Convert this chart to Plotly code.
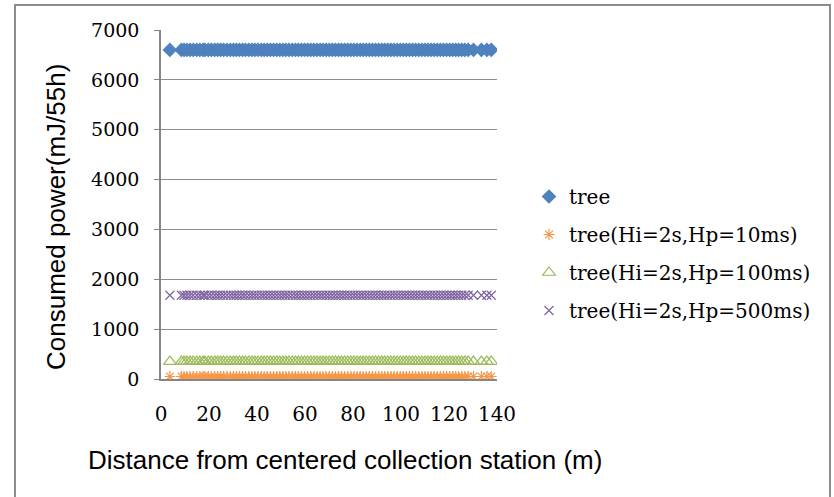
import plotly.graph_objects as go

distance = [3.7, 8.5, 9.6, 10.8, 12.1, 13.4, 14.9, 16.2, 17.5, 18.3, 19.7, 21.0, 22.4, 23.6,
            24.8, 26.1, 27.5, 28.9, 30.2, 31.4, 32.7, 34.0, 35.2, 36.6, 37.9, 39.1, 40.4,
            41.8, 43.0, 44.3, 45.6, 46.9, 48.2, 49.5, 50.8, 52.0, 53.3, 54.7, 56.0, 57.2,
            58.5, 59.8, 61.1, 62.4, 63.7, 65.0, 66.3, 67.5, 68.8, 70.1, 71.4, 72.7, 74.0,
            75.2, 76.5, 77.8, 79.1, 80.4, 81.7, 83.0, 84.2, 85.5, 86.8, 88.1, 89.4, 90.7,
            92.0, 93.2, 94.5, 95.8, 97.1, 98.4, 99.7, 101.0, 102.2, 103.5, 104.8, 106.1,
            107.4, 108.7, 110.0, 111.2, 112.5, 113.8, 115.1, 116.4, 117.7, 119.0, 120.3,
            121.5, 122.8, 124.0, 125.3, 126.6, 128.0, 130.2, 133.5, 135.8, 137.6]

series_names = ["tree", "tree(Hi=2s,Hp=10ms)", "tree(Hi=2s,Hp=100ms)", "tree(Hi=2s,Hp=500ms)"]
series_values = [6600, 50, 350, 1680]   # consumed power (mJ/55h), same for every node
colors = ["#4F81BD", "#F79646", "#9BBB59", "#8064A2"]
symbols = ["diamond", "asterisk-open", "triangle-up-open", "x-thin-open"]
sizes = [10, 9, 11, 9]

y_ticks = [0, 1000, 2000, 3000, 4000, 5000, 6000, 7000]
x_ticks = [0, 20, 40, 60, 80, 100, 120, 140]

x_title = "Distance from centered collection station (m)"
y_title = "Consumed power(mJ/55h)"

W, H = 834, 497
L, R, T, B = 161, 337, 30, 118

fig = go.Figure()
for i, (name, val, c, s, sz) in enumerate(zip(series_names, series_values, colors, symbols, sizes)):
    fig.add_trace(go.Scatter(
        x=distance, y=[val] * len(distance), mode="markers", name=name,
        legendgroup=f"g{i}",
        marker=dict(symbol=s, color=c, size=sz, line=dict(color=c, width=1.2)),
    ))

pw, ph = W - L - R, H - T - B
def px(x):
    return (x - L) / pw
def py(y):
    return (H - B - y) / ph

fig.update_layout(
    width=W, height=H,
    margin=dict(l=L, r=R, t=T, b=B),
    paper_bgcolor="white", plot_bgcolor="white",
    font=dict(family="DejaVu Serif", size=20, color="black"),
    showlegend=True,
    legend=dict(x=px(529), y=py(177), xanchor="left", yanchor="top",
                font=dict(family="DejaVu Serif", size=20), tracegroupgap=9,
                itemwidth=30, bgcolor="rgba(0,0,0,0)"),
    xaxis=dict(range=[0, 140], tickvals=x_ticks, showgrid=False, showline=True,
               linecolor="#868686", linewidth=1.5, ticks="", zeroline=False,
               ticklabelstandoff=16,
               tickfont=dict(family="DejaVu Serif", size=20)),
    yaxis=dict(range=[0, 7000], tickvals=y_ticks, showgrid=True, gridcolor="#8c8c8c",
               gridwidth=1, showline=True, linecolor="#868686", linewidth=1.5,
               ticks="outside", ticklen=5, tickcolor="#868686", zeroline=False,
               ticklabelstandoff=11,
               tickfont=dict(family="DejaVu Serif", size=19)),
    annotations=[
        dict(text=y_title, textangle=-90, xref="paper", yref="paper",
             x=px(56), y=py(217), xanchor="center", yanchor="middle",
             showarrow=False, font=dict(family="Liberation Sans", size=26)),
        dict(text=x_title, xref="paper", yref="paper",
             x=px(345), y=py(460), xanchor="center", yanchor="middle",
             showarrow=False, font=dict(family="Liberation Sans", size=26)),
    ],
    shapes=[dict(type="rect", xref="paper", yref="paper",
                 x0=px(15), x1=px(830), y0=py(H + 10), y1=py(5),
                 line=dict(color="#8c8c8c", width=2), layer="below")],
)

fig.write_html("out.html", config={"displayModeBar": False},
               post_script="document.body.style.margin='0';")
